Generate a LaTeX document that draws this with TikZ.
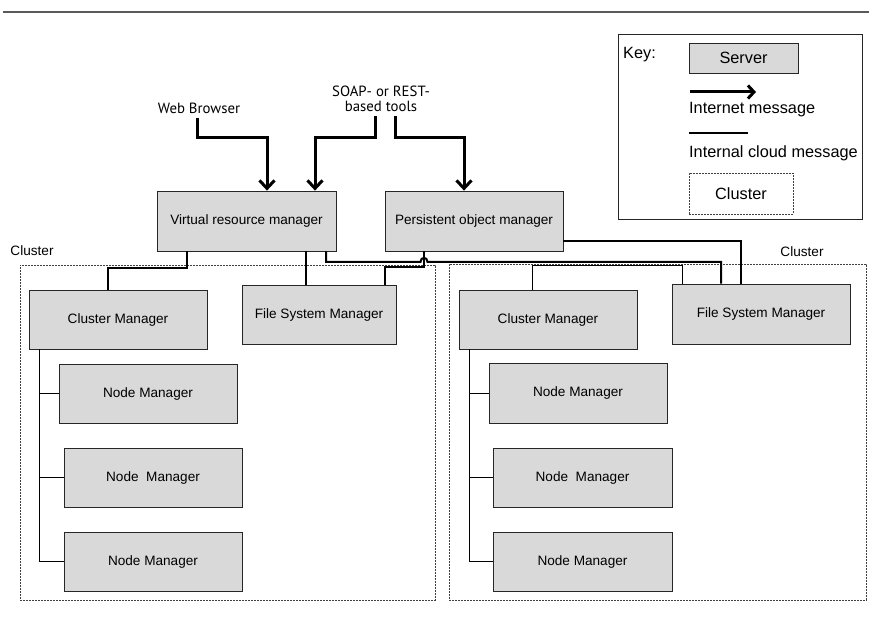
\documentclass[tikz,border=0pt]{standalone}
\usepackage{fontspec}
\setmainfont{Liberation Sans}
\newfontfamily\hum{PT Sans}
\usetikzlibrary{arrows.meta}
\definecolor{srvfill}{HTML}{D9D9D9}
\tikzset{
  server/.style={draw=black!85, line width=0.8pt, fill=srvfill, inner sep=0pt,
    font=\fontsize{13.6}{15}\selectfont},
  clusterbox/.style={draw=black!75, line width=0.8pt, dash pattern=on 2pt off 1pt},
  inet/.style={line width=3pt, -{Straight Barb[length=8pt,width=15pt,line width=3pt]}},
  conn/.style={line width=2pt},
  thinconn/.style={line width=1pt},
  lbl/.style={inner sep=0pt, font=\fontsize{13.6}{15}\selectfont},
  keylbl/.style={inner sep=0pt, font=\fontsize{16.3}{18}\selectfont},
  humlbl/.style={inner sep=0pt, align=center, font=\hum\fontsize{14.8}{15}\selectfont},
}
\begin{document}
\begin{tikzpicture}[x=1pt,y=-1pt]
\useasboundingbox (0,0) rectangle (870,620);
% top rule
\draw[line width=2pt, black!65] (3,12) -- (869,12);

% clusters
\node[clusterbox, minimum width=415pt, minimum height=335pt, inner sep=0pt] (cl1) at (227.5,432.5) {};
\node[clusterbox, minimum width=417pt, minimum height=336pt, inner sep=0pt] (cl2) at (657.5,432) {};
\node[lbl] (cl1lbl) at (32,251) {Cluster};
\node[lbl] (cl2lbl) at (802,252) {Cluster};

% servers
\node[server, minimum width=179pt, minimum height=60pt] (vrm) at (246.5,221) {Virtual resource manager};
\node[server, minimum width=178pt, minimum height=60pt] (pom) at (474,221) {Persistent object manager};
\node[server, minimum width=178pt, minimum height=59pt] (cm1) at (118,319.5) {Cluster Manager};
\node[server, minimum width=154pt, minimum height=59pt] (fsm1) at (319,314.5) {File System Manager};
\node[server, minimum width=178pt, minimum height=59pt] (nm1a) at (148,393.5) {Node Manager};
\node[server, minimum width=178pt, minimum height=59pt] (nm1b) at (153,477.5) {Node\ \ Manager};
\node[server, minimum width=178pt, minimum height=59pt] (nm1c) at (153,561.5) {Node Manager};
\node[server, minimum width=178pt, minimum height=59pt] (cm2) at (548,319.5) {Cluster Manager};
\node[server, minimum width=178pt, minimum height=60pt] (fsm2) at (761,314) {File System Manager};
\node[server, minimum width=178pt, minimum height=60pt] (nm2a) at (578,393) {Node Manager};
\node[server, minimum width=179pt, minimum height=59pt] (nm2b) at (582.5,477.5) {Node\ \ Manager};
\node[server, minimum width=179pt, minimum height=59pt] (nm2c) at (582.5,561.5) {Node Manager};

% external clients
\node[humlbl] (wb) at (199,108) {Web Browser};
\node[humlbl] (soap) at (381,98.5) {SOAP- or REST-\\based tools};

% internet messages
\draw[inet] (197,0 |- wb.south) ++(0,4) |- (267,138) -- (267,0 |- vrm.north);
\draw[inet] (375,0 |- soap.south) ++(0,4) |- (315,138) -- (315,0 |- vrm.north);
\draw[inet] (395,0 |- soap.south) ++(0,4) |- (464,138) -- (464,0 |- pom.north);

% internal cloud messages
\draw[conn] (187,0 |- vrm.south) -- (187,268) -| (108,0 |- cm1.north);
\draw[conn] (306,0 |- vrm.south) -- (306,0 |- fsm1.north);
\draw[conn] (326,0 |- vrm.south) -- (326,262) -- (420.5,262)
   .. controls (420.5,256.5) and (427.5,256.5) .. (427.5,262) -- (721,262) -- (721,0 |- fsm2.north);
\draw[conn] (424,0 |- pom.south) -- (424,267) -| (385,0 |- fsm1.north);
\draw[conn] (pom.east |- 0,241) -| (741,0 |- fsm2.north);
\draw[thinconn] (532,0 |- cm2.north) |- (682,266) -- (682,0 |- fsm2.north);

% cluster trees
\draw[thinconn] (39,0 |- cm1.south) |- (nm1c.west);
\draw[thinconn] (39,0 |- nm1a.west) -- (nm1a.west);
\draw[thinconn] (39,0 |- nm1b.west) -- (nm1b.west);
\draw[thinconn] (469,0 |- cm2.south) |- (nm2c.west);
\draw[thinconn] (469,0 |- nm2a.west) -- (nm2a.west);
\draw[thinconn] (469,0 |- nm2b.west) -- (nm2b.west);

% key
\node[draw=black!85, line width=0.8pt, minimum width=244pt, minimum height=185pt, inner sep=0pt] (key) at (740,126.5) {};
\node[keylbl, anchor=west] (keyt) at (623,55) {Key:};
\node[server, minimum width=109pt, minimum height=30pt, font=\fontsize{16.3}{18}\selectfont] (keysrv) at (743.5,58) {Server};
\coordinate (ka1) at (690,92);
\coordinate (ka2) at (756,92);
\draw[line width=3pt, -{Straight Barb[length=6pt,width=13pt,line width=3pt]}] (ka1) -- (ka2);
\node[keylbl, anchor=west] (kim) at (689,110) {Internet message};
\coordinate (kl1) at (689,133);
\coordinate (kl2) at (748,133);
\draw[conn] (kl1) -- (kl2);
\node[keylbl, anchor=west] (kic) at (689,153) {Internal cloud message};
\node[clusterbox, minimum width=104pt, minimum height=41pt, inner sep=0pt, font=\fontsize{16.3}{18}\selectfont] (kcl) at (741,193.5) {Cluster};
\end{tikzpicture}
\end{document}
